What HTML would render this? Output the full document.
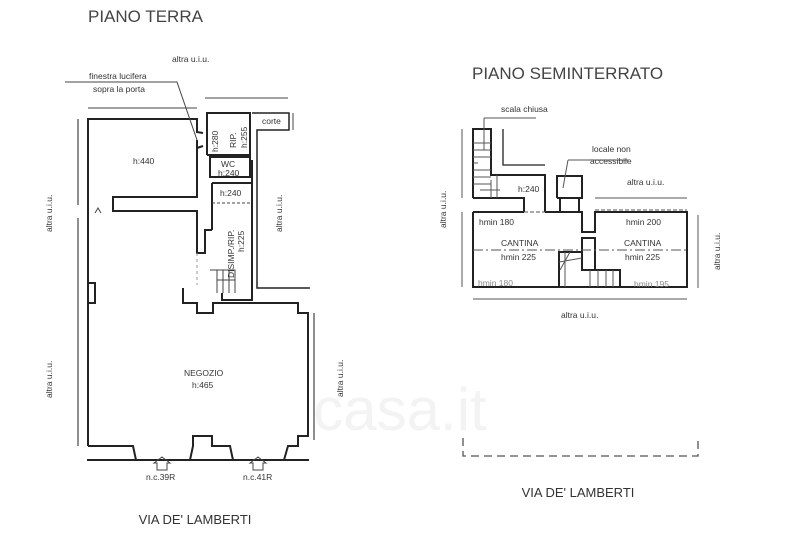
<!DOCTYPE html>
<html><head><meta charset="utf-8"><style>
html,body{margin:0;padding:0;background:#fff}
svg{display:block}
text{font-family:"Liberation Sans",sans-serif;fill:#333}
</style></head><body>
<svg width="800" height="533" viewBox="0 0 800 533" xmlns="http://www.w3.org/2000/svg">
<text x="400" y="430" font-size="60" style="fill:#f3f3f3" text-anchor="middle">casa.it</text>
<g fill="none" stroke="#222" stroke-width="2">
<path d="M88,446 V119 H197 V132 L203,133"/>
<path d="M197,148 L203,146"/>
<path d="M197,140 V197 H113 V211 H197 V253 H205 V230 H212"/>
<path d="M88,283 H95 V303 H88"/>
<path d="M183,288 V303 H197 V313 H213 V303 H298 V313 H308 V436 H298 V446 H288 L284,460"/>
<path d="M88,446 H133 L136,460"/>
<path d="M190,460 L193,446 V436 H212 V446 H230 L233,460"/>
<path d="M87,460 H309"/>
<path d="M207,155 V113 H250 V155 H207"/>
<path d="M252,113 H289 V130 H257 V288 H310" stroke-width="1.5"/>
<path d="M250,130 V113"/>
<path d="M210,157 H250 V177 H210 Z"/>
<path d="M212,183 V230 M252,160 V300 H222 V293"/>
<path d="M212,183 H252"/>
</g>
<g fill="none" stroke="#444" stroke-width="1">
<path d="M212,203 H252" stroke-dasharray="3,2"/>
<path d="M197,253 V285" stroke-dasharray="3,3" stroke="#999"/>
<path d="M210,270 H235 V293 M217,280 H235 M217,270 V293 M223,270 V293 M229,270 V293"/>
<path d="M78,119 V205 M78,218 V446" stroke-width="1.2"/>
<path d="M314,313 V440" stroke-width="1.2"/>
<path d="M88,108 H197 M205,98 H288 M293,113 V130" />
<path d="M65,82 H177 L197,140"/>
<path d="M157,470 V463 H154 L162,457 L170,463 H167 V470 Z M253,470 V463 H250 L258,457 L266,463 H263 V470 Z"/>
<path d="M95,213 L98,208 L101,213"/>
</g>
<g fill="none" stroke="#222" stroke-width="2">
<path d="M473,198 V129 H491 V175 H545 V212"/>
<path d="M473,198 H524 V212"/>
<path d="M503,129 V165 H545" stroke-width="1.3"/>
<path d="M557,198 V176 H582 V198 H557 M560,198 V212 M579,198 V212"/>
<path d="M473,212 H524 M545,212 H582 V232 H595 V212 H687 V287 H473 V212"/>
<path d="M559,287 V252 H582 V270 H620 V287 M582,252 V238 H595 V270"/>
</g>
<g fill="none" stroke="#555" stroke-width="1">
<path d="M524,212 H545 M595,210 H687" stroke-dasharray="4,2"/>
<path d="M473,250 H687" stroke-dasharray="10,3,2,3"/>
<path d="M462,129 V198 M462,212 V287 M698,215 V288 M473,299 H687 M595,198 H687"/>
<path d="M473,163 H478 M473,170 H491 M473,177 H491 M473,184 H491 M491,180 V198 M497,175 V198 M480,190 H500 M473,150 H491 M473,157 H491 M473,143 H491"/>
<path d="M565,252 V287 M570,252 L560,270 M559,262 L582,258 M590,270 V287 M598,270 V287 M606,270 V287 M613,270 V287"/>
<path d="M484,118 V150 M484,118 H536 M568,160 L563,188 M568,160 H628"/>
<path d="M463,438 V456 H698 V438" stroke-dasharray="8,5" stroke-width="1.3"/>
</g>
<g font-size="17"><text x="88" y="22" style="fill:#444">PIANO TERRA</text><text x="472" y="79" style="fill:#444">PIANO SEMINTERRATO</text></g>
<g font-size="8.5">
<text x="172" y="62">altra u.i.u.</text>
<text x="89" y="79">finestra lucifera</text>
<text x="93" y="92">sopra la porta</text>
<text x="133" y="164">h:440</text>
<text x="262" y="124">corte</text>
<text x="221" y="167">WC</text>
<text x="218" y="176">h:240</text>
<text x="220" y="196">h:240</text>
<text x="184" y="376">NEGOZIO</text>
<text x="192" y="388">h:465</text>
<text x="146" y="480">n.c.39R</text>
<text x="243" y="480">n.c.41R</text>
<text transform="translate(218,152) rotate(-90)">h:280</text>
<text transform="translate(236,148) rotate(-90)">RIP.</text>
<text transform="translate(247,148) rotate(-90)">h:255</text>
<text transform="translate(234,278) rotate(-90)">DISIMP./RIP.</text>
<text transform="translate(244,252) rotate(-90)">h:225</text>
<text transform="translate(52,232) rotate(-90)">altra u.i.u.</text>
<text transform="translate(52,398) rotate(-90)">altra u.i.u.</text>
<text transform="translate(282,232) rotate(-90)">altra u.i.u.</text>
<text transform="translate(343,397) rotate(-90)">altra u.i.u.</text>
<text transform="translate(446,228) rotate(-90)">altra u.i.u.</text>
<text transform="translate(720,270) rotate(-90)">altra u.i.u.</text>
<text x="501" y="112">scala chiusa</text>
<text x="592" y="152">locale non</text>
<text x="590" y="164">accessibile</text>
<text x="627" y="185">altra u.i.u.</text>
<text x="518" y="192">h:240</text>
<text x="479" y="225">hmin 180</text>
<text x="626" y="225">hmin 200</text>
<text x="501" y="246">CANTINA</text>
<text x="624" y="246">CANTINA</text>
<text x="501" y="260">hmin 225</text>
<text x="625" y="260">hmin 225</text>
<text x="478" y="286" style="fill:#888">hmin 180</text>
<text x="634" y="287" style="fill:#888">hmin 195</text>
<text x="561" y="318">altra u.i.u.</text>
</g>
<g font-size="13"><text x="578" y="497" text-anchor="middle">VIA DE' LAMBERTI</text><text x="195" y="524" text-anchor="middle">VIA DE' LAMBERTI</text></g>
</svg>
</body></html>
